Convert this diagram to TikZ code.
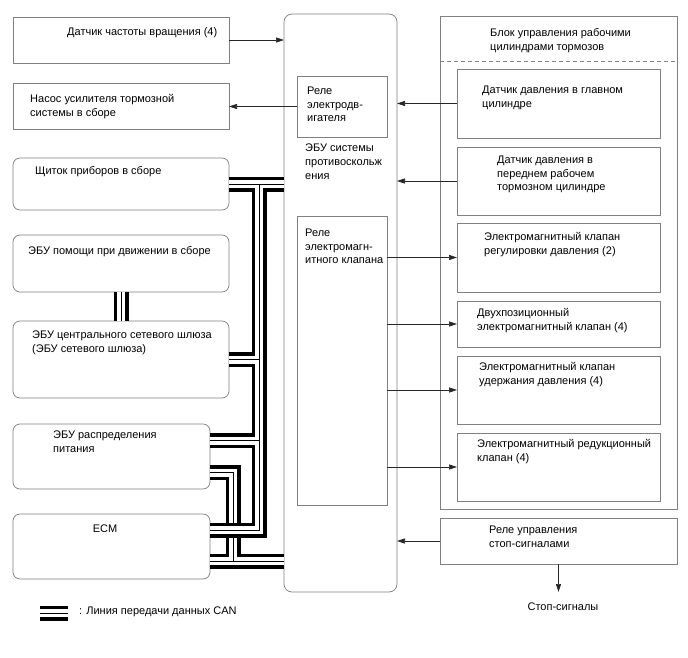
\documentclass[tikz,border=0pt]{standalone}
\usepackage{fontspec}
\setmainfont{Liberation Sans}
\usetikzlibrary{arrows.meta}
\definecolor{boxgray}{HTML}{808080}
\definecolor{linegray}{HTML}{262626}
\begin{document}
\begin{tikzpicture}[x=1pt,y=-1pt,
  box/.style={draw=boxgray, line width=0.7pt, fill=white, inner sep=0pt, outer sep=0pt, anchor=north west},
  rbox/.style={box, rounded corners=7pt},
  wh/.style 2 args={minimum width=#1pt, minimum height=#2pt},
  txt/.style={inner sep=0pt, anchor=north west, align=left, font=\fontsize{11}{13.8}\selectfont, execute at begin node={\rule{0pt}{8.35pt}}},
  arr/.style={draw=linegray, line width=0.6pt, -{Triangle[length=8pt,width=5pt]}},
  can/.style={draw=black, line width=15pt, line join=miter,
    postaction={draw=white, line width=8pt, line join=miter},
    postaction={draw=black, line width=0.8pt, line join=miter}},
]
\useasboundingbox[fill=white] (0,0) rectangle (688,658);

% left boxes
\node[box, wh={216}{46}] (spd) at (13,17) {};
\node[box, wh={216}{46}] (pump) at (13,83) {};
\node[rbox, wh={216}{52}] (ic) at (13,158) {};
\node[rbox, wh={216}{57}] (ds) at (13,235) {};
\node[rbox, wh={216}{77}] (gw) at (13,321) {};
\node[rbox, wh={197}{65}] (pd) at (13,424) {};
\node[rbox, wh={197}{65}] (ecm) at (13,514) {};

% central ECU
\node[box, rounded corners=8pt, wh={113}{578}] (ecu) at (284,14) {};
\node[box, wh={90}{61}] (rl1) at (297,76) {};
\node[box, wh={90}{289}] (rl2) at (297,216) {};

% right block
\node[box, wh={237}{493}] (blk) at (440,16) {};
\coordinate (dl) at (0,61);
\draw[boxgray, line width=0.7pt, dash pattern=on 4pt off 3pt] (blk.west |- dl) -- (blk.east |- dl);
\node[box, wh={203}{69}] (sa) at (457,69) {};
\node[box, wh={203}{68}] (sb) at (457,147) {};
\node[box, wh={203}{69}] (vc) at (457,223) {};
\node[box, wh={203}{46}] (vd) at (457,301) {};
\node[box, wh={203}{68}] (ve) at (457,356) {};
\node[box, wh={203}{68}] (vf) at (457,433) {};
\node[box, wh={237}{46}] (sr) at (440,518) {};

% CAN lines
\coordinate (busT) at (259,184);
\coordinate (pdX) at (233,0);
\coordinate (pdA) at ([yshift=16pt]pd.east);
\coordinate (pdB) at ([yshift=-16pt]pd.east);
\coordinate (ecmA) at ([yshift=16.5pt]ecm.east);
\coordinate (ecmB) at ([yshift=-14.5pt]ecm.east);
\coordinate (legA) at (40,613);
\coordinate (legB) at (68,613);
% lower group (passes under the main bus)
\path[can] (pdB) -- (pdB -| pdX) -- (pdX |- ecmB)
  (ecmB) -- (ecmB -| ecu.west);
% main bus
\path[can] (ic.east) -- (ic.east -| ecu.west)
  (busT) -- (busT |- ecmA) -- (ecmA)
  (gw.east) -- (gw.east -| busT)
  (pdA) -- (pdA -| busT)
  (ds.south) -- (gw.north);
% legend
\path[can] (legA) -- (legB);

% arrows
\draw[arr] (spd.east) -- (spd.east -| ecu.west);
\draw[arr] (rl1.west) -- (rl1.west -| pump.east);
\draw[arr] (sa.west) -- (sa.west -| ecu.east);
\draw[arr] (sb.west) -- (sb.west -| ecu.east);
\draw[arr] (vc.west -| rl2.east) -- (vc.west);
\draw[arr] (vd.west -| rl2.east) -- (vd.west);
\draw[arr] (ve.west -| rl2.east) -- (ve.west);
\draw[arr] (vf.west -| rl2.east) -- (vf.west);
\draw[arr] (sr.west) -- (sr.west -| ecu.east);
\node[txt, anchor=north, inner ysep=10pt] (stl) at (563,592) {Стоп-сигналы};
\draw[arr] (sr.south) -- (sr.south |- stl.north);

% texts
\node[txt] (t1) at (67,27) {Датчик частоты вращения (4)};
\node[txt] (t2) at (30,94) {Насос усилителя тормозной\\системы в сборе};
\node[txt] (t3) at (307,86.5) {Реле\\электродв-\\игателя};
\node[txt] (t4) at (305,143.6) {ЭБУ системы\\противоскольж\\ения};
\node[txt] (t5) at (305,228.6) {Реле\\электромагн-\\итного клапана};
\node[txt] (t6) at (490,28.6) {Блок управления рабочими\\цилиндрами тормозов};
\node[txt] (t7) at (482,85.6) {Датчик давления в главном\\цилиндре};
\node[txt] (t8) at (497,155.6) {Датчик давления в\\переднем рабочем\\тормозном цилиндре};
\node[txt] (t9) at (484,232.6) {Электромагнитный клапан\\регулировки давления (2)};
\node[txt] (t10) at (477,308.6) {Двухпозиционный\\электромагнитный клапан (4)};
\node[txt] (t11) at (479,362.6) {Электромагнитный клапан\\удержания давления (4)};
\node[txt] (t12) at (477,439.6) {Электромагнитный редукционный\\клапан (4)};
\node[txt] (t13) at (489,525.6) {Реле управления\\стоп-сигналами};
\node[txt] (t14) at (35,165.6) {Щиток приборов в сборе};
\node[txt] (t15) at (28,245.6) {ЭБУ помощи при движении в сборе};
\node[txt] (t16) at (32,330.6) {ЭБУ центрального сетевого шлюза\\(ЭБУ сетевого шлюза)};
\node[txt] (t17) at (53,430.6) {ЭБУ распределения\\питания};
\node[txt, anchor=north] (t18) at (105,523.6) {ECM};
\node[txt] (t19) at (79,605.6) {: Линия передачи данных CAN};
\end{tikzpicture}
\end{document}
